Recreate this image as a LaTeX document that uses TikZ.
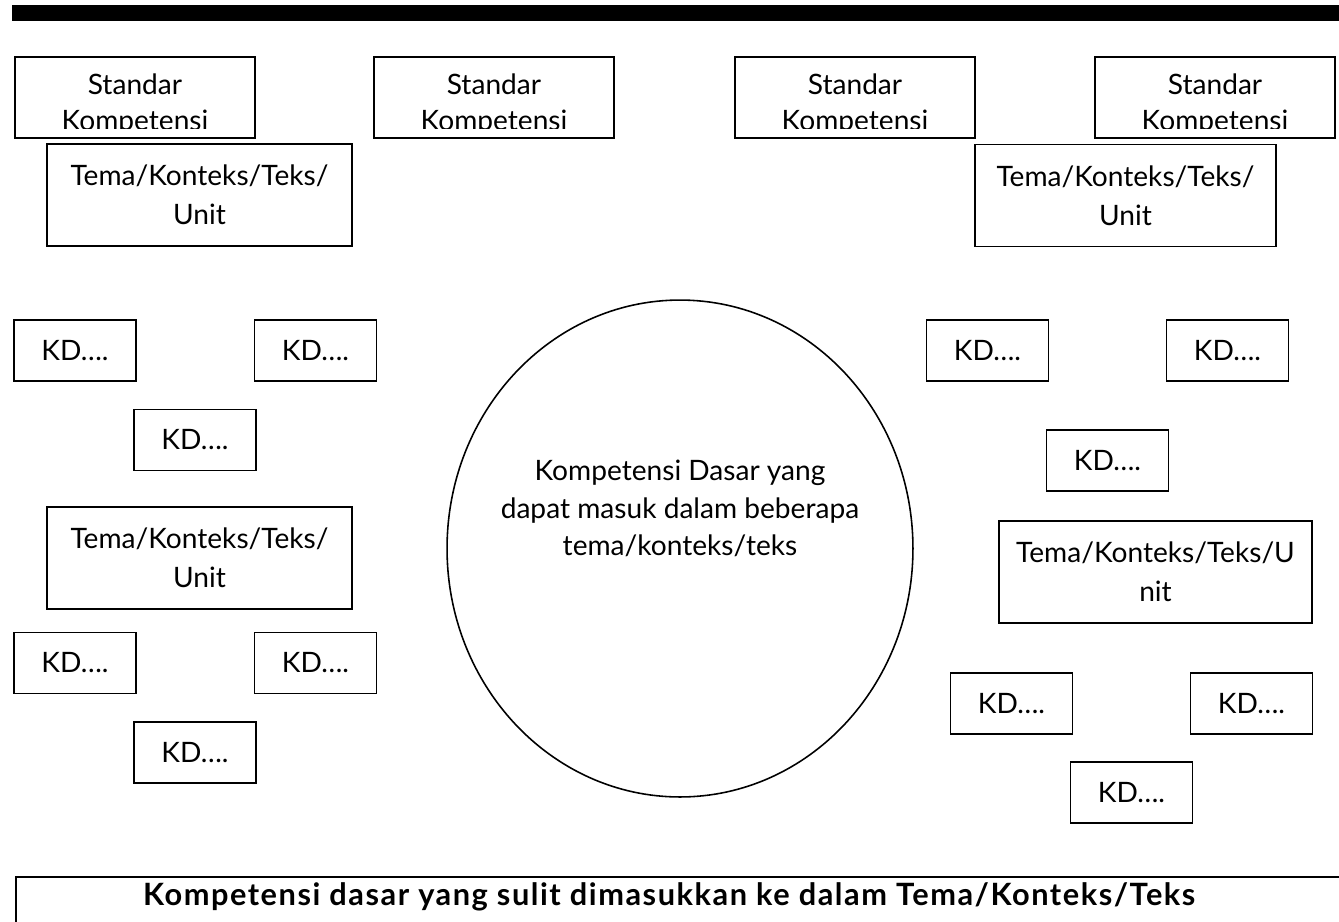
\documentclass[tikz,border=0pt]{standalone}
\usepackage{fontspec}
\setmainfont{Lato}
\usepackage{tikz}
\usetikzlibrary{shapes.geometric}

\begin{document}
\begin{tikzpicture}[
    x=0.02cm, y=-0.02cm,        % one unit = one pixel of the layout, y going down
    ]
% -------------------------------------------------
\tikzset{
  base/.style={draw, line width=1.1pt, rectangle, inner sep=0pt, align=center,
               font=\fontsize{16}{22}\selectfont},
  sk/.style={base, minimum width=4.8cm, minimum height=1.62cm,
             path picture={
               \clip (path picture bounding box.north west) rectangle
                     ([yshift=0.2cm]path picture bounding box.south east);
               \node[align=center, font=\fontsize{16}{21}\selectfont]
                 at ([yshift=-0.14cm]path picture bounding box.center) {Standar\\Kompetensi};}},
  tema/.style={base, minimum width=6.1cm, minimum height=2.04cm},
  kd/.style={base, minimum width=2.44cm, minimum height=1.22cm},
  cloud/.style={draw, line width=0.9pt, ellipse, inner sep=0pt,
                minimum width=9.32cm, minimum height=9.94cm},
  cloudtext/.style={align=center, font=\fontsize{16}{21.5}\selectfont}
}
% -------------------------------------------------
\useasboundingbox (0,0) rectangle (1339,921);
\clip (0,0) rectangle (1339,921);

% bar at the top
\fill (12,5) rectangle (1339,21);

% Standar Kompetensi row
\node [sk] (sk1) at (135,97.5) {};
\node [sk] (sk2) at (494,97.5) {};
\node [sk] (sk3) at (855,97.5) {};
\node [sk] (sk4) at (1215,97.5) {};

% themes
\node [tema] (temaA) at (199.5,195) {Tema/Konteks/Teks/\\Unit};
\node [tema, minimum width=6.02cm] (temaB) at (1125.5,195.5) {Tema/Konteks/Teks/\\Unit};
\node [tema] (temaC) at (199.5,558) {Tema/Konteks/Teks/\\Unit};
\node [tema, minimum width=6.26cm] (temaD) at (1155.5,572) {Tema/Konteks/Teks/U\\nit};

% KD boxes, left side
\node [kd] (kd1) at (75,350.5) {KD….};
\node [kd] (kd2) at (315.5,350.5) {KD….};
\node [kd] (kd3) at (195,440) {KD….};
\node [kd] (kd4) at (75,663) {KD….};
\node [kd] (kd5) at (315.5,663) {KD….};
\node [kd] (kd6) at (195,752.5) {KD….};

% KD boxes, right side
\node [kd] (kd7) at (987.5,350.5) {KD….};
\node [kd] (kd8) at (1227.5,350.5) {KD….};
\node [kd] (kd9) at (1107.5,460.5) {KD….};
\node [kd] (kd10) at (1011.5,703.5) {KD….};
\node [kd] (kd11) at (1251.5,703.5) {KD….};
\node [kd] (kd12) at (1131.5,792.5) {KD….};

% shared competences
\node [cloud] (kdall) at (680,548.5) {};
\node [cloudtext] (kdtxt) at (680,508.5) {Kompetensi Dasar yang\\dapat masuk dalam beberapa\\tema/konteks/teks};

% box at the bottom, running off the page
\node [base, anchor=north west, minimum width=27cm, minimum height=2cm] (sulit) at (15,876) {};
\node [font=\fontsize{17.5}{20}\selectfont\bfseries\addfontfeature{LetterSpace=5}] (sulittxt) at (669,897)
  {Kompetensi dasar yang sulit dimasukkan ke dalam Tema/Konteks/Teks};

\end{tikzpicture}
\end{document}
